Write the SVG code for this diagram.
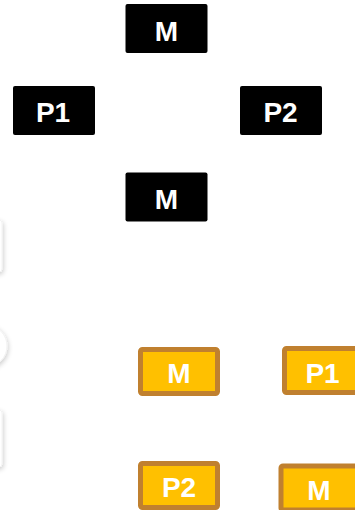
<svg xmlns="http://www.w3.org/2000/svg" width="355" height="510" viewBox="0 0 355 510">
  <defs>
    <filter id="softShadow" x="-50%" y="-50%" width="200%" height="200%">
      <feGaussianBlur in="SourceAlpha" stdDeviation="2.5"/>
      <feOffset dx="1" dy="2" result="blur"/>
      <feComponentTransfer><feFuncA type="linear" slope="0.2"/></feComponentTransfer>
      <feMerge><feMergeNode/><feMergeNode in="SourceGraphic"/></feMerge>
    </filter>
  </defs>
  <style>
    .dark { fill: #000000; }
    .gold { fill: #FFC000; stroke: #C0802F; stroke-width: 5; }
    .ghost { fill: #FFFFFF; stroke: #F3F3F3; stroke-width: 1; }
    .lbl { font-family: "Liberation Sans", Arial, sans-serif; font-weight: bold; font-size: 28px; fill: #FFFFFF; text-anchor: middle; }
  </style>

  <rect width="355" height="510" fill="#FFFFFF"/>

  <!-- partially visible shapes at the left edge -->
  <g id="edge-shapes" filter="url(#softShadow)">
    <rect class="ghost" x="-80" y="220" width="82" height="52" rx="3"/>
    <circle class="ghost" cx="-14" cy="346" r="21"/>
    <rect class="ghost" x="-80" y="410" width="82" height="57" rx="3"/>
  </g>

  <!-- black cycle nodes -->
  <g id="m-top">
    <rect class="dark" x="125.5" y="4" width="82" height="49" rx="2"/>
    <text class="lbl" x="166.5" y="40.5">M</text>
  </g>
  <g id="p1-left">
    <rect class="dark" x="13" y="86" width="82" height="49" rx="2"/>
    <text class="lbl" x="53" y="121.5">P1</text>
  </g>
  <g id="p2-right">
    <rect class="dark" x="240" y="86" width="82" height="49" rx="2"/>
    <text class="lbl" x="280.5" y="121.5">P2</text>
  </g>
  <g id="m-bottom">
    <rect class="dark" x="125.5" y="172.5" width="82" height="49" rx="2"/>
    <text class="lbl" x="166.5" y="209">M</text>
  </g>

  <!-- gold nodes -->
  <g id="gold-m1">
    <rect class="gold" x="140.5" y="349.5" width="77" height="44" rx="2"/>
    <text class="lbl" x="179" y="383">M</text>
  </g>
  <g id="gold-p1">
    <rect class="gold" x="284.5" y="348.5" width="77" height="44" rx="2"/>
    <text class="lbl" x="322.5" y="383">P1</text>
  </g>
  <g id="gold-p2">
    <rect class="gold" x="140.5" y="463.5" width="77" height="44" rx="2"/>
    <text class="lbl" x="179" y="496.5">P2</text>
  </g>
  <g id="gold-m2">
    <rect class="gold" x="281" y="466" width="77" height="44" rx="2"/>
    <text class="lbl" x="319" y="500">M</text>
  </g>
</svg>
